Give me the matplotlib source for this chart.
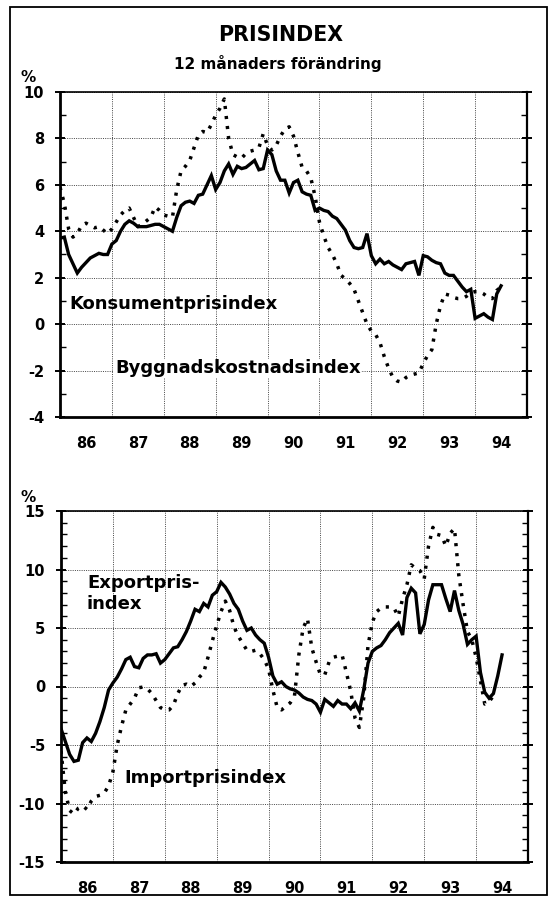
import numpy as np
import matplotlib
matplotlib.use("Agg")
import matplotlib.pyplot as plt
from matplotlib.patches import Rectangle
from matplotlib.ticker import MultipleLocator, FixedLocator, FixedFormatter

plt.rcParams['font.family'] = ['DejaVu Sans']
plt.rcParams['font.weight'] = 'bold'
plt.rcParams['axes.unicode_minus'] = False

# Monthly series, 12-month change in percent, starting January 1986
first_year = 1986
year_labels = ['86', '87', '88', '89', '90', '91', '92', '93', '94']

kpi = [3.7, 3.75, 3.0, 2.6, 2.2, 2.45, 2.65, 2.85, 2.95, 3.05, 3.0, 3.0,
       3.45, 3.6, 4.0, 4.3, 4.45, 4.35, 4.2, 4.2, 4.2, 4.25, 4.3, 4.3,
       4.2, 4.1, 4.0, 4.6, 5.1, 5.25, 5.3, 5.2, 5.55, 5.6, 6.0, 6.4,
       5.8, 6.1, 6.6, 6.9, 6.45, 6.8, 6.7, 6.75, 6.9, 7.05, 6.65, 6.7,
       7.5, 7.3, 6.6, 6.2, 6.2, 5.65, 6.1, 6.2, 5.7, 5.6, 5.55, 4.9,
       5.0, 4.9, 4.85, 4.65, 4.55, 4.3, 4.05, 3.6, 3.3, 3.25, 3.3, 3.9,
       2.95, 2.6, 2.8, 2.6, 2.7, 2.55, 2.45, 2.35, 2.6, 2.65, 2.7, 2.1,
       2.95, 2.9, 2.75, 2.65, 2.6, 2.2, 2.1, 2.1, 1.85, 1.6, 1.4, 1.5,
       0.25, 0.35, 0.45, 0.3, 0.2, 1.3, 1.65]

bki = [5.9, 5.2, 4.1, 3.75, 3.9, 4.25, 4.35, 4.25, 4.15, 4.2, 4.05, 3.9,
       4.1, 4.4, 4.7, 4.9, 5.0, 4.6, 4.2, 4.3, 4.45, 4.6, 5.05, 4.9,
       4.7, 4.65, 4.6, 5.8, 6.6, 6.8, 7.05, 7.6, 8.15, 8.3, 8.25, 8.6,
       9.0, 9.3, 9.7, 8.0, 7.3, 7.2, 7.15, 7.35, 7.45, 7.5, 7.6, 8.2,
       7.7, 7.5, 7.7, 8.1, 8.4, 8.5, 8.1, 7.4, 6.75, 6.6, 6.3, 5.5,
       4.4, 3.8, 3.3, 3.0, 2.6, 2.1, 1.95, 1.75, 1.5, 1.0, 0.5, 0.0,
       -0.3, -0.45, -0.8, -1.4, -1.9, -2.3, -2.45, -2.5, -2.3, -2.2, -2.15, -2.1,
       -1.7, -1.35, -1.1, 0.0, 0.8, 1.3, 1.25, 1.15, 1.1, 1.1, 1.2, 1.35,
       1.4, 1.4, 1.3, 1.15, 1.1, 1.45, 1.6]

export_idx = [-3.6, -4.7, -5.8, -6.4, -6.3, -4.8, -4.4, -4.7, -4.0, -3.0, -1.8, -0.3,
              0.3, 0.8, 1.5, 2.3, 2.5, 1.7, 1.6, 2.4, 2.7, 2.7, 2.8, 2.0,
              2.3, 2.8, 3.3, 3.4, 4.0, 4.7, 5.6, 6.6, 6.4, 7.1, 6.8, 7.8,
              8.1, 8.9, 8.5, 7.9, 7.1, 6.6, 5.6, 4.8, 5.0, 4.4, 4.0, 3.7,
              2.5, 0.9, 0.2, 0.4, 0.0, -0.2, -0.3, -0.55, -0.9, -1.1, -1.2, -1.5,
              -2.2, -1.1, -1.4, -1.7, -1.2, -1.5, -1.5, -1.9, -1.4, -2.1, -0.3, 2.0,
              3.0, 3.3, 3.5, 4.0, 4.6, 5.0, 5.4, 4.4, 7.6, 8.4, 8.0, 4.5,
              5.3, 7.4, 8.7, 8.7, 8.7, 7.5, 6.4, 8.2, 6.5, 5.3, 3.6, 4.0,
              4.3, 1.2, -0.5, -1.0, -0.6, 0.9, 2.7]

import_idx = [-5.5, -9.0, -10.6, -10.9, -10.4, -10.2, -10.5, -9.8, -9.4, -9.3, -9.1, -8.5,
              -7.3, -5.0, -3.4, -2.0, -1.5, -1.0, -0.1, -0.05, -0.2, -0.6, -1.2, -1.8,
              -2.0, -2.0, -1.6, -0.6, 0.1, 0.2, 0.0, 0.3, 0.8, 1.2, 2.5, 3.9,
              5.2, 6.4, 7.3, 6.5, 5.1, 4.3, 3.7, 3.1, 3.0, 3.1, 2.8, 2.3,
              1.5, -0.3, -1.8, -2.0, -1.7, -1.4, -0.8, 2.7, 5.0, 5.8, 3.3, 2.1,
              1.0, 1.0, 2.1, 2.5, 2.6, 2.7, 1.2, -0.4, -2.7, -3.5, -1.0, 3.5,
              5.5, 6.4, 6.7, 6.8, 6.8, 6.7, 6.0, 7.5, 8.7, 10.4, 10.1, 9.9,
              9.2, 12.0, 13.6, 13.0, 12.9, 12.0, 13.1, 13.5, 9.5, 7.0, 4.7, 4.0,
              2.5, 0.5, -1.5, -1.3, -0.8]


def months(series):
    return first_year + np.arange(len(series)) / 12.0


solid_kw = dict(color='black', lw=2.4, solid_joinstyle='miter')
dot_kw = dict(color='black', lw=2.5, linestyle=(0, (0.9, 2.0)), dash_capstyle='butt')
grid_kw = dict(color='#444444', lw=0.7, linestyle=(0, (1, 1.3)))

W, H = 559, 902
fig = plt.figure(figsize=(W / 100, H / 100), dpi=100)

# outer frame
fig.add_artist(Rectangle((10 / W, 1 - 895 / H), 537 / W, 888 / H,
                         transform=fig.transFigure, fill=False, lw=1.3,
                         edgecolor='black'))

fig.text(281 / W, 1 - 35 / H, 'PRISINDEX', ha='center', va='center',
         fontsize=14.8, fontweight='bold')
fig.text(278 / W, 1 - 63 / H, '12 månaders förändring', ha='center',
         va='center', fontsize=11, fontweight='bold')


def style_axes(ax, ymin, ymax, major, label_size=10.5):
    ax.set_xlim(first_year, first_year + len(year_labels))
    ax.set_ylim(ymin, ymax)
    ax.yaxis.set_major_locator(MultipleLocator(major))
    ax.yaxis.set_minor_locator(MultipleLocator(1))
    ax.xaxis.set_major_locator(FixedLocator(np.arange(first_year + 1, first_year + len(year_labels))))
    ax.xaxis.set_major_formatter(FixedFormatter([]))
    ax.xaxis.set_minor_locator(FixedLocator(first_year + 0.5 + np.arange(len(year_labels))))
    ax.xaxis.set_minor_formatter(FixedFormatter(year_labels))
    ax.tick_params(axis='x', which='both', length=0, labelsize=label_size, pad=14)
    ax.tick_params(axis='y', which='major', direction='inout', length=7, width=1.4,
                   labelsize=label_size, pad=8, right=True)
    ax.tick_params(axis='y', which='minor', direction='in', length=4, width=1.0,
                   right=True)
    for lab in ax.get_xticklabels(minor=True) + ax.get_yticklabels():
        lab.set_fontweight('bold')
    ax.grid(True, which='major', **grid_kw)
    ax.spines['left'].set_linewidth(2.0)
    ax.spines['bottom'].set_linewidth(2.0)
    ax.spines['top'].set_linewidth(1.2)
    ax.spines['right'].set_linewidth(1.6)


# upper panel: consumer and construction cost price indices
ax1 = fig.add_axes([60 / W, 1 - 417 / H, 467 / W, 325 / H])
style_axes(ax1, -4, 10, 2)
ax1.plot(months(bki), bki, **dot_kw)
ax1.plot(months(kpi), kpi, **solid_kw)
ax1.text(1986.19, 0.85, 'Konsumentprisindex', ha='left', va='center',
         fontsize=13, fontweight='bold')
ax1.text(1987.06, -1.9, 'Byggnadskostnadsindex', ha='left', va='center',
         fontsize=13, fontweight='bold',
         bbox=dict(facecolor='white', edgecolor='none', pad=0.5))
fig.text(28 / W, 1 - 77 / H, '%', ha='center', va='center', fontsize=11,
         fontweight='bold')

# lower panel: export and import price indices
ax2 = fig.add_axes([61 / W, 1 - 862 / H, 467 / W, 351 / H])
style_axes(ax2, -15, 15, 5)
ax2.plot(months(import_idx), import_idx, **dot_kw)
ax2.plot(months(export_idx), export_idx, **solid_kw)
ax2.text(1986.5, 7.95, 'Exportpris-\nindex', ha='left', va='center',
         fontsize=13, fontweight='bold', linespacing=1.25)
ax2.text(1987.23, -7.8, 'Importprisindex', ha='left', va='center',
         fontsize=13, fontweight='bold')
fig.text(28 / W, 1 - 497 / H, '%', ha='center', va='center', fontsize=11,
         fontweight='bold')

fig.savefig('out.png', dpi=100)
